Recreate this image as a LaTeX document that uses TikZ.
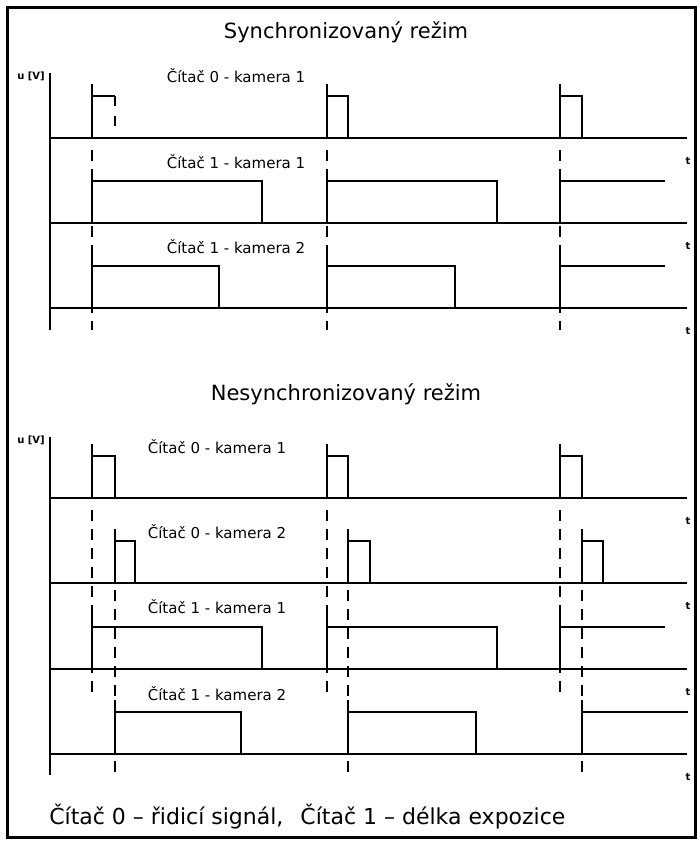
\documentclass[tikz,border=0pt]{standalone}
\usepackage{fontspec}
\setmainfont{DejaVu Sans}
\usepackage{tikz}

\begin{document}
\begin{tikzpicture}[x=1pt,y=-1pt,line width=1.9pt,
    trig/.style={dash pattern=on 11pt off 8pt},
    title/.style={font=\fontsize{21}{25}\selectfont,anchor=base},
    lbl/.style={font=\fontsize{15}{17}\selectfont,anchor=base},
    unit/.style={font=\fontsize{10}{11}\selectfont\bfseries,anchor=base west},
    tlbl/.style={font=\fontsize{10}{11}\selectfont\bfseries}]
  \useasboundingbox (0,0) rectangle (699,848);
  \draw[line width=3pt] (7,8) rectangle (695,837);

  \path
  (346,39) node[title](sync) {Synchronizovaný režim}
  (346,400) node[title](async) {Nesynchronizovaný režim}
  (45,824) node[title,anchor=base west,font=\fontsize{22}{26}\selectfont](legend)
    {Čítač 0 – řidicí signál,\hspace{10pt} Čítač 1 – délka expozice}
  (13,80) node[unit](u1) {u [V]}
  (13,443) node[unit](u2) {u [V]}
  (236,83) node[lbl](s1) {Čítač 0 - kamera 1}
  (236,168) node[lbl](s2) {Čítač 1 - kamera 1}
  (236,253) node[lbl](s3) {Čítač 1 - kamera 2}
  (217,453) node[lbl](n1) {Čítač 0 - kamera 1}
  (217,538) node[lbl](n2) {Čítač 0 - kamera 2}
  (217,613) node[lbl](n3) {Čítač 1 - kamera 1}
  (217,700) node[lbl](n4) {Čítač 1 - kamera 2}
  ;

  \draw (50,73) -- (50,330);
  \draw (50,437) -- (50,775);
  \foreach \y in {138,223,308,498,583,669,754} {
    \draw (50,\y) -- (687,\y);
    \node[tlbl] (t\y) at (688,\y+23) {t};
  }

  \foreach \x in {92,327,560}
    \draw[trig] (\x,150) -- (\x,330);
  \foreach \x in {92,327,560}
    \draw[trig] (\x,510) -- (\x,692);
  \foreach \x in {115,348,582}
    \draw[trig] (\x,590) -- (\x,773);

  \draw (92,138) -- (92,84) (92,96) -- (115,96);
  \draw[dash pattern=on 10pt off 10pt] (115,96) -- (115,130);
  \foreach \a/\b/\y in {327/348/138,560/582/138,92/262/223,327/497/223,
      92/219/308,327/455/308,92/115/498,327/348/498,560/582/498,
      115/135/583,348/370/583,582/603/583,92/262/669,327/497/669,
      115/241/754,348/476/754}
    \draw (\a,\y) -- (\a,\y-54) (\a,\y-42) -- (\b,\y-42) -- (\b,\y);
  \foreach \a/\b/\y in {560/665/223,560/665/308,560/665/669,582/688/754}
    \draw (\a,\y) -- (\a,\y-54) (\a,\y-42) -- (\b,\y-42);
\end{tikzpicture}
\end{document}
